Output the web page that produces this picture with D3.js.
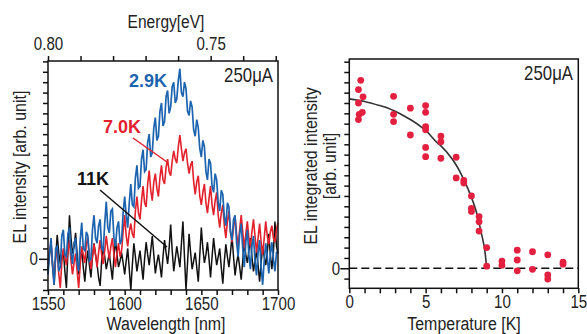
<!DOCTYPE html>
<html>
<head>
<meta charset="utf-8">
<script src="https://cdn.jsdelivr.net/npm/d3@7"></script>
<style>
  body { margin: 0; background: #fff; }
  svg { display: block; font-family: "Liberation Sans", Arial, sans-serif; }
</style>
</head>
<body>
<svg id="chart" width="587" height="334"></svg>
<script>
// left panel: EL spectra, 1 nm sampling, baseline = 0
const wavelength = d3.range(1550, 1701, 1);
const spec29K = [
  -1.5, 0.5, 2.0, -0.8, -2.5, 1.0, 1.2, -1.2, -0.8, 2.2,
  2.8, 0.4, 0.2, 2.4, 3.0, 0.6, -0.5, 1.5, 2.0, -0.4,
  -1.2, 1.8, 3.5, 1.0, 0.8, 2.6, 2.2, -0.2, 0.0, 2.8,
  4.2, 2.0, 1.5, 3.2, 3.8, 1.0, 0.8, 3.4, 5.5, 3.0,
  2.5, 4.6, 4.8, 2.0, 1.2, 3.0, 3.6, 1.4, 1.8, 4.4,
  6.0, 4.2, 3.0, 5.4, 7.2, 5.2, 5.0, 7.8, 9.0, 6.8,
  7.0, 9.6, 10.5, 8.4, 8.6, 11.2, 12.0, 9.8, 10.2, 12.6,
  13.6, 11.4, 11.8, 14.2, 15.0, 12.8, 13.2, 15.6, 16.2, 14.0,
  14.6, 16.6, 17.0, 15.0, 15.4, 17.2, 18.3, 16.0, 15.6, 17.0,
  16.4, 14.2, 13.8, 15.2, 14.6, 12.4, 11.8, 13.4, 12.6, 10.6,
  9.8, 11.4, 10.8, 8.4, 7.6, 9.6, 9.2, 7.0, 6.4, 8.2,
  7.6, 5.4, 4.6, 6.6, 6.2, 4.0, 3.2, 5.4, 5.0, 2.6,
  1.8, 3.8, 4.2, 1.6, 0.2, 2.4, 3.4, 1.0, -0.8, 1.6,
  2.8, 0.4, -1.0, 1.2, 2.2, -0.2, -1.6, 0.6, 1.8, -0.8,
  -2.5, -0.2, 1.5, 0.2, -1.4, 0.4, 1.6, 0.0, -1.2, 0.6,
  0.8];
const spec70K = [
  -0.5, 0.8, 1.5, -0.6, -1.8, 0.2, 0.8, -1.4, -2.8, -0.4,
  1.0, 0.2, -0.6, 0.8, 1.8, -0.2, -1.5, -0.4, 0.5, -1.2,
  -2.8, -0.6, 1.2, 0.4, -0.4, 1.4, 2.0, 0.2, -1.0, 0.2,
  1.4, 0.4, -0.8, 0.6, 1.8, 0.4, -0.5, 0.8, 2.2, 1.0,
  0.0, 1.2, 2.0, 0.4, -0.8, 0.6, 1.5, 0.2, 0.8, 2.6,
  4.2, 2.2, 1.2, 2.6, 3.4, 2.4, 2.0, 4.6, 6.0, 4.4,
  3.8, 5.6, 7.0, 5.4, 5.0, 7.2, 8.5, 6.6, 5.6, 7.4,
  8.2, 6.8, 6.0, 7.8, 9.0, 7.6, 7.2, 8.8, 9.6, 8.4,
  8.0, 9.4, 10.4, 9.6, 9.2, 10.8, 11.9, 10.6, 9.4, 10.2,
  10.6, 9.2, 8.2, 9.0, 9.4, 7.4, 6.2, 7.4, 8.0, 6.0,
  5.2, 6.4, 7.2, 5.4, 4.4, 5.8, 7.0, 5.2, 4.2, 5.6,
  6.4, 4.2, 3.0, 4.4, 5.2, 3.2, 2.0, 3.6, 4.6, 2.6,
  1.6, 3.0, 4.0, 2.4, 1.2, 2.8, 4.2, 2.6, 1.0, 2.4,
  3.6, 2.0, 1.2, 2.6, 3.8, 2.2, 0.6, 2.0, 3.4, 1.6,
  0.4, 2.0, 3.6, 2.2, 1.4, 2.6, 3.2, 2.0, 1.6, 2.8,
  3.5];
const spec11K = [
  -1.0, 0.4, 1.5, -0.6, -2.5, 0.2, 2.3, 0.6, -0.5, 0.2,
  0.8, -1.2, -2.8, 0.6, 4.2, 2.0, 0.5, 1.2, 2.5, 0.4,
  -1.5, -0.2, 1.0, -0.8, -2.2, -0.4, 0.8, -0.6, -1.8, 0.2,
  1.5, 0.4, -0.5, -1.8, -2.6, -0.2, 1.2, 0.2, -1.0, -0.2,
  0.5, -0.8, -2.0, 0.2, 1.8, 0.4, -0.8, -0.2, 0.6, -0.4,
  -1.5, -0.2, 1.0, -1.0, -3.0, -0.6, 1.5, 0.2, -1.2, -0.2,
  0.8, -0.6, -2.0, 0.0, 1.6, 0.4, -0.6, 0.8, 2.2, 0.4,
  -1.4, -0.4, 0.4, -0.6, -1.8, 0.2, 1.8, 0.6, -0.5, 1.0,
  3.3, 0.8, -1.2, 0.0, 1.2, 0.2, -0.8, 1.4, 3.6, 0.2,
  -3.0, -0.4, 2.4, 0.6, -1.0, -0.2, 0.6, -0.8, -2.2, 0.4,
  3.0, 1.0, -0.4, 0.4, 1.6, 0.0, -1.8, 0.2, 2.0, 0.6,
  -0.6, 0.2, 1.0, -0.8, -2.4, -0.2, 1.4, 0.2, -0.8, 0.6,
  2.2, 0.2, -1.6, -0.4, 0.4, -0.8, -2.0, -0.2, 1.6, 0.4,
  -0.4, 0.8, 2.0, 0.2, -1.2, -0.2, 0.8, -0.6, -2.2, -0.4,
  1.2, 0.2, -0.6, 0.6, 2.4, 0.4, -1.0, 0.6, 3.6, 1.2,
  0.5];
const wlTicks = d3.range(1550, 1701, 10);
const wlLabels = [1550, 1600, 1650, 1700];
const energyTicks = [0.80, 0.79, 0.78, 0.77, 0.76, 0.75, 0.74, 0.73];
const energyLabels = [0.80, 0.75];

// right panel: integrated intensity vs temperature
const tempK = [0.75, 0.6, 0.9, 0.6, 0.85, 0.65, 0.6, 2.9, 2.9, 2.9, 4, 4, 5, 5, 5, 5, 5, 5, 6, 6, 6,
  7, 7, 7.5, 7.5, 8, 8, 8, 8.5, 8.5, 8.5, 9, 9, 10, 10, 11, 11, 11, 12, 12, 13, 13, 13, 14, 14];
const intensity = [18.2, 17.3, 16.6, 16.0, 15.1, 14.9, 14.4, 16.65, 14.9, 14.2, 15.5, 12.9,
  15.75, 15.1, 13.7, 13.4, 11.7, 10.8, 12.8, 12.25, 10.65, 10.75, 8.75, 8.5, 8.25, 7.0, 5.8, 5.5,
  5.0, 4.5, 3.6, 2.0, 0.2, 0.7, 0.3, 1.75, 0.8, -0.25, 1.6, -0.1, 1.3, -0.65, -1.05, 0.6, 0.4];
const fitT = [0, 1, 2, 2.55, 3, 3.65, 4, 4.75, 5, 5.8, 6, 6.7, 7, 7.35, 7.9, 8.35, 8.65, 8.9, 9.0];
const fitV = [16.4, 16.15, 15.75, 15.5, 15.2, 14.7, 14.4, 13.65, 13.35, 12.1, 11.85, 10.65, 10.0,
  9.05, 7.25, 5.3, 3.4, 1.45, 0.0];
const tempTicks = d3.range(0, 16, 1);
const tempLabels = [0, 5, 10, 15];

const svg = d3.select('#chart');
const blue = '#1d64b0', red = '#e3212d', dotRed = '#e42040', ink = '#222';
const narrow = 0.84; // horizontal squeeze to mimic a condensed face

const xW = d3.scaleLinear().domain([1550, 1700]).range([48, 278]);
const xE = d3.scaleLinear().domain([0.8, 0.7293]).range([48, 278]);
const yL = d3.scaleLinear().domain([-3, 19.04]).range([290, 61]);

const xT = d3.scaleLinear().domain([0, 15]).range([349.3, 578.3]);
const yR = d3.scaleLinear().domain([-1.94, 20.26]).range([288.3, 59]);

function styleAxis(g) {
  g.select('.domain').remove();
  g.selectAll('.tick line').attr('stroke', '#111').attr('stroke-width', 1.5);
  g.selectAll('text').attr('font-size', 18).attr('fill', ink)
    .attr('transform', `scale(${narrow},1)`);
}

// condensed text placed at x,y (optionally rotated)
function label(parent, x, y, s, size, anchor, rot) {
  const g = parent.append('g')
    .attr('transform', `translate(${x},${y})` + (rot ? ` rotate(${rot})` : '') + ` scale(${narrow},1)`);
  g.append('text').attr('text-anchor', anchor || 'middle').attr('font-size', size)
    .attr('fill', ink).text(s);
}

// ---- left panel ----
const left = svg.append('g');

const lineW = data => d3.line()
  .x((d, i) => xW(wavelength[i]))
  .y(d => yL(d))(data);

left.append('path').attr('d', lineW(spec11K)).attr('fill', 'none').attr('stroke', '#111').attr('stroke-width', 1.5);
left.append('path').attr('d', lineW(spec70K)).attr('fill', 'none').attr('stroke', red).attr('stroke-width', 1.6);
left.append('path').attr('d', lineW(spec29K)).attr('fill', 'none').attr('stroke', blue).attr('stroke-width', 1.7);

left.append('g').attr('transform', 'translate(0,290)')
  .call(d3.axisBottom(xW).tickValues(wlTicks).tickSize(5).tickPadding(2)
    .tickFormat(d => wlLabels.includes(d) ? d : ''))
  .call(styleAxis);

left.append('g').attr('transform', 'translate(0,61)')
  .call(d3.axisTop(xE).tickValues(energyTicks).tickSize(5).tickPadding(6)
    .tickFormat(d => energyLabels.some(v => Math.abs(v - d) < 1e-6) ? d.toFixed(2) : ''))
  .call(styleAxis);

const leftY = left.append('g').attr('transform', 'translate(48,0)')
  .call(d3.axisLeft(yL).tickValues(d3.range(-3, 20)).tickSize(5).tickPadding(7)
    .tickFormat(d => d === 0 ? '0' : ''))
  .call(styleAxis);
leftY.selectAll('.tick').filter(d => d === 0).select('line').attr('x2', -9);

left.append('rect').attr('x', 48).attr('y', 61).attr('width', 230).attr('height', 229)
  .attr('fill', 'none').attr('stroke', '#111').attr('stroke-width', 1.5);

label(left, 166, 28, 'Energy[eV]', 18.5);
label(left, 166, 330, 'Wavelength [nm]', 19);
label(left, 26, 167, 'EL intensity [arb. unit]', 19, 'middle', -90);
label(left, 273, 82, '250μA', 20, 'end');

// labels with leaders
left.append('text').attr('x', 148).attr('y', 87).attr('text-anchor', 'middle')
  .attr('font-weight', 'bold').attr('font-size', 18).attr('fill', blue).text('2.9K');
left.append('text').attr('x', 122).attr('y', 133).attr('text-anchor', 'middle')
  .attr('font-weight', 'bold').attr('font-size', 18).attr('fill', red).text('7.0K');
left.append('text').attr('x', 93).attr('y', 185).attr('text-anchor', 'middle')
  .attr('font-weight', 'bold').attr('font-size', 18).attr('fill', '#111').text('11K');
left.append('line').attr('x1', 133).attr('y1', 138).attr('x2', 167).attr('y2', 162)
  .attr('stroke', red).attr('stroke-width', 1.5);
left.append('line').attr('x1', 100).attr('y1', 190).attr('x2', 167).attr('y2', 247)
  .attr('stroke', '#111').attr('stroke-width', 1.5);

// ---- right panel ----
const right = svg.append('g');

right.append('line').attr('x1', 349.3).attr('x2', 578.3).attr('y1', yR(0)).attr('y2', yR(0))
  .attr('stroke', '#111').attr('stroke-width', 1.3).attr('stroke-dasharray', '8,4');

right.append('path')
  .attr('d', d3.line().curve(d3.curveMonotoneX).x((d, i) => xT(fitT[i])).y(d => yR(d))(fitV))
  .attr('fill', 'none').attr('stroke', '#333').attr('stroke-width', 1.6);

right.selectAll('circle').data(intensity).enter().append('circle')
  .attr('cx', (d, i) => xT(tempK[i]))
  .attr('cy', d => yR(d))
  .attr('r', 3.4)
  .attr('fill', dotRed);

right.append('g').attr('transform', 'translate(0,288.3)')
  .call(d3.axisBottom(xT).tickValues(tempTicks).tickSize(5).tickPadding(2)
    .tickFormat(d => tempLabels.includes(d) ? d : ''))
  .call(styleAxis);

const rightY = right.append('g').attr('transform', 'translate(349.3,0)')
  .call(d3.axisLeft(yR).tickValues(d3.range(-1, 21)).tickSize(5).tickPadding(6)
    .tickFormat(d => d === 0 ? '0' : ''))
  .call(styleAxis);
rightY.selectAll('.tick').filter(d => d === 0).select('line').attr('x2', -9);

right.append('rect').attr('x', 349.3).attr('y', 59).attr('width', 229).attr('height', 229.3)
  .attr('fill', 'none').attr('stroke', '#111').attr('stroke-width', 1.5);

label(right, 573, 80, '250μA', 20, 'end');
label(right, 464, 330, 'Temperature [K]', 19);
label(right, 317, 166, 'EL integrated intensity', 19, 'middle', -90);
label(right, 336, 166, '[arb. unit]', 19, 'middle', -90);
</script>
</body>
</html>
